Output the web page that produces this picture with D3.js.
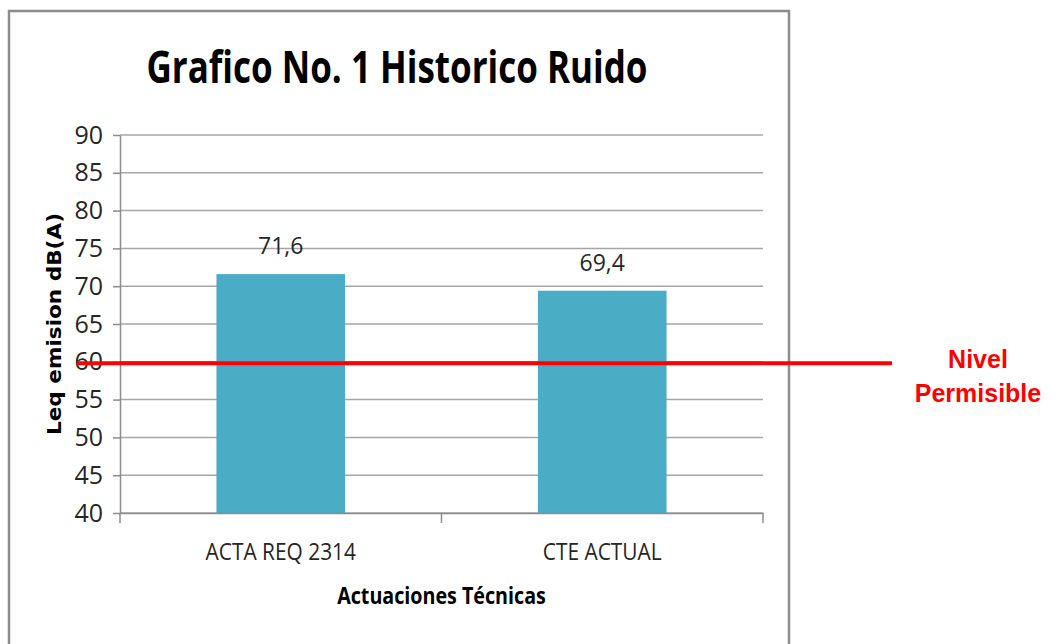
<!DOCTYPE html>
<html>
<head>
<meta charset="utf-8">
<script src="https://cdn.jsdelivr.net/npm/d3@7"></script>
<style>
	body { margin: 0; background: #fff; }
	svg { display: block; }
</style>
</head>
<body>
<div id="chartDiv"></div>
<script>
; (function () {

	var width = 1055;
	var height = 644;
	var plot = { left: 120, right: 763, top: 135, bottom: 513 };

	// data
	var categories = ["ACTA REQ 2314", "CTE ACTUAL"];
	var values = [71.6, 69.4];
	var valueLabels = ["71,6", "69,4"];
	var yTicks = [40, 45, 50, 55, 60, 65, 70, 75, 80, 85, 90];
	var limitValue = 59.8;
	var limitLabel = ["Nivel", "Permisible"];

	var titleText = "Grafico No. 1 Historico Ruido";
	var xAxisLabelHeader = "Actuaciones Técnicas";
	var yAxisLabelHeader = "Leq emision dB(A)";

	var narrow = "'Liberation Sans Narrow', 'Open Sans', sans-serif";
	var axisGrey = "#8c8c8c";

	// squeeze text horizontally, Calibri is narrower than what we have
	function condense(sel, factor) {
		sel.each(function () {
			var w = this.getComputedTextLength();
			d3.select(this)
				.attr("textLength", w * factor)
				.attr("lengthAdjust", "spacingAndGlyphs");
		});
	}

	var chart = d3.select("#chartDiv").append("svg")
		.attr("width", width)
		.attr("height", height);

	chart.append("rect")
		.attr("width", width).attr("height", height)
		.attr("fill", "#fff");

	// outer frame of the chart object
	chart.append("rect")
		.attr("x", 9).attr("y", 11)
		.attr("width", 780).attr("height", 700)
		.attr("fill", "none")
		.attr("stroke", axisGrey)
		.attr("stroke-width", 2.5);

	chart.append("text")
		.attr("x", 397).attr("y", 83)
		.attr("text-anchor", "middle")
		.attr("textLength", 501)
		.attr("lengthAdjust", "spacingAndGlyphs")
		.style("font-family", narrow)
		.style("font-weight", "bold")
		.style("font-size", "45px")
		.text(titleText);

	var yScale = d3.scaleLinear()
		.domain([40, 90])
		.range([plot.bottom, plot.top]);

	var xScale = d3.scaleBand()
		.domain(categories)
		.range([plot.left, plot.right])
		.padding(0);

	var barWidth = xScale.bandwidth() * 0.4;

	// gridlines
	chart.append("g")
		.selectAll("line")
		.data(yTicks)
		.join("line")
		.attr("x1", plot.left).attr("x2", plot.right)
		.attr("y1", function (d) { return yScale(d); })
		.attr("y2", function (d) { return yScale(d); })
		.attr("stroke", "#a6a6a6")
		.attr("stroke-width", 1.5);

	var yAxis = d3.axisLeft(yScale)
		.tickValues(yTicks)
		.tickSize(7)
		.tickSizeOuter(0)
		.tickPadding(10);

	var yAxisG = chart.append("g")
		.attr("transform", "translate(" + plot.left + ",0)")
		.call(yAxis);
	yAxisG.selectAll("line, path").attr("stroke", axisGrey).attr("stroke-width", 1.5);
	yAxisG.selectAll("text")
		.style("font-family", narrow)
		.style("font-size", "25px")
		.attr("fill", "#262626");

	// bars
	chart.append("g")
		.selectAll("rect")
		.data(values)
		.join("rect")
		.attr("x", function (d, i) { return xScale(categories[i]) + (xScale.bandwidth() - barWidth) / 2; })
		.attr("y", function (d) { return yScale(d); })
		.attr("width", barWidth)
		.attr("height", function (d) { return yScale(40) - yScale(d); })
		.attr("fill", "#4bacc6");

	chart.append("g")
		.selectAll("text")
		.data(values)
		.join("text")
		.attr("x", function (d, i) { return xScale(categories[i]) + xScale.bandwidth() / 2; })
		.attr("y", function (d) { return yScale(d) - 20; })
		.attr("text-anchor", "middle")
		.style("font-family", narrow)
		.style("font-size", "23px")
		.attr("fill", "#262626")
		.text(function (d, i) { return valueLabels[i]; });

	// x axis: labels centred, ticks on category boundaries
	var xAxis = d3.axisBottom(xScale)
		.tickSize(0)
		.tickSizeOuter(0)
		.tickPadding(30);

	var xAxisG = chart.append("g")
		.attr("transform", "translate(0," + plot.bottom + ")")
		.call(xAxis);
	xAxisG.select("path").attr("stroke", axisGrey).attr("stroke-width", 1.5);
	xAxisG.selectAll("text")
		.style("font-family", narrow)
		.style("font-size", "24px")
		.attr("fill", "#262626")
		.call(condense, 0.87);

	var boundaries = categories.map(function (c) { return xScale(c); }).concat([xScale.range()[1]]);
	xAxisG.selectAll(".boundary")
		.data(boundaries)
		.join("line")
		.attr("class", "boundary")
		.attr("x1", function (d) { return d; }).attr("x2", function (d) { return d; })
		.attr("y1", 0).attr("y2", 10)
		.attr("stroke", axisGrey)
		.attr("stroke-width", 1.5);

	chart.append("text")
		.attr("x", (plot.left + plot.right) / 2)
		.attr("y", 604)
		.attr("text-anchor", "middle")
		.style("font-family", narrow)
		.style("font-weight", "bold")
		.style("font-size", "24px")
		.text(xAxisLabelHeader)
		.call(condense, 0.82);

	chart.append("text")
		.attr("transform", "translate(61," + 324 + ") rotate(-90)")
		.attr("text-anchor", "middle")
		.attr("textLength", 222)
		.attr("lengthAdjust", "spacingAndGlyphs")
		.style("font-family", "'DejaVu Sans', Verdana, sans-serif")
		.style("font-weight", "bold")
		.style("font-size", "20px")
		.text(yAxisLabelHeader);

	// permissible level line
	chart.append("line")
		.attr("x1", 77).attr("x2", 892)
		.attr("y1", yScale(limitValue)).attr("y2", yScale(limitValue))
		.attr("stroke", "#ff0000")
		.attr("stroke-width", 4);

	chart.append("g")
		.selectAll("text")
		.data(limitLabel)
		.join("text")
		.attr("x", 978)
		.attr("y", function (d, i) { return yScale(limitValue) + 5 + i * 34; })
		.attr("text-anchor", "middle")
		.style("font-family", "'Liberation Sans', Arial, sans-serif")
		.style("font-weight", "bold")
		.style("font-size", "25px")
		.attr("fill", "#ff0000")
		.text(function (d) { return d; });

})();
</script>
</body>
</html>
